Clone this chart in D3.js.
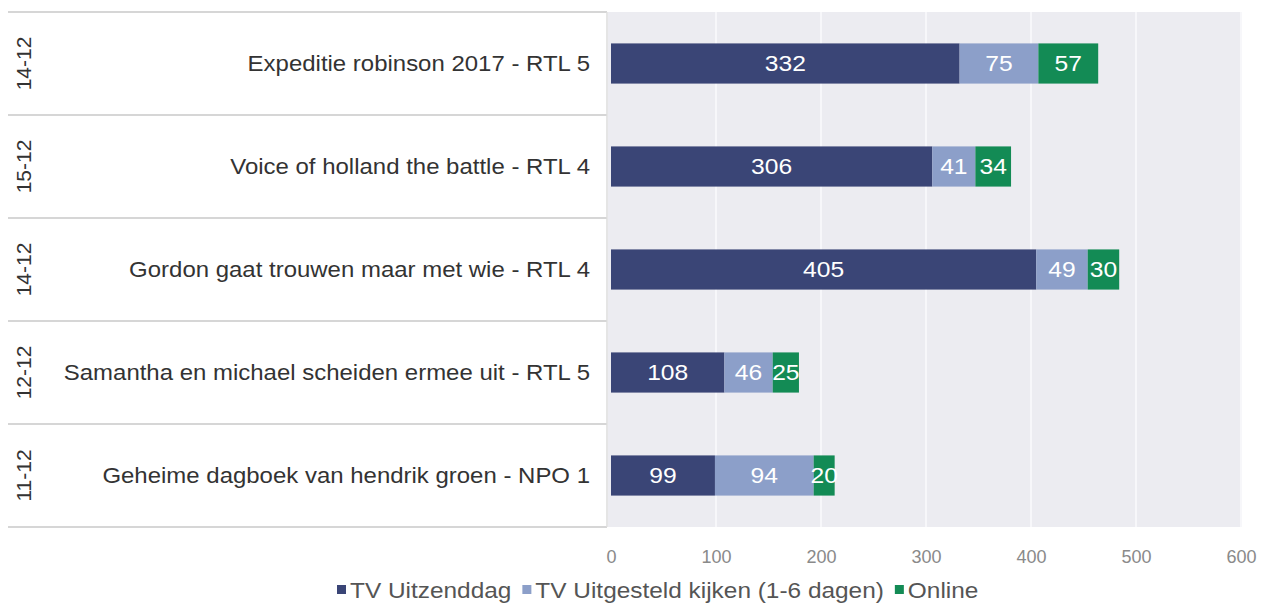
<!DOCTYPE html>
<html lang="nl">
<head>
<meta charset="UTF-8">
<title>Kijkcijfers</title>
<script src="https://d3js.org/d3.v7.min.js"></script>
<style>
  body { margin: 0; background: #fff; }
  svg text { font-family: "Liberation Sans", Arial, sans-serif; }
</style>
</head>
<body>
<svg width="1265" height="603"></svg>
<script>
// data
const dates = ["14-12", "15-12", "14-12", "12-12", "11-12"];
const programs = [
  "Expeditie robinson 2017 - RTL 5",
  "Voice of holland the battle - RTL 4",
  "Gordon gaat trouwen maar met wie - RTL 4",
  "Samantha en michael scheiden ermee uit - RTL 5",
  "Geheime dagboek van hendrik groen - NPO 1"
];
const seriesNames = ["TV Uitzenddag", "TV Uitgesteld kijken (1-6 dagen)", "Online"];
const uitzenddag = [332, 306, 405, 108, 99];
const uitgesteld = [75, 41, 49, 46, 94];
const online = [57, 34, 30, 25, 20];
const xTicks = [0, 100, 200, 300, 400, 500, 600];
const colors = ["#3a4576", "#8c9fc9", "#138b55"];

const svg = d3.select("svg");
const plotLeft = 611, plotRight = 1241, plotTop = 12, plotBottom = 527;
const stretch = 1.12; // text in the source image is slightly wide

const rows = programs.map((p, i) => ({
  program: p, date: dates[i],
  values: [uitzenddag[i], uitgesteld[i], online[i]]
}));

const x = d3.scaleLinear().domain([0, 600]).range([plotLeft, plotRight]);
const y = d3.scaleBand().domain(programs).range([plotTop, plotBottom]).paddingInner(0.61).paddingOuter(0.305);
const band = d3.scaleBand().domain(programs).range([plotTop, plotBottom]);

// plot background
svg.append("rect")
  .attr("x", 608).attr("y", plotTop)
  .attr("width", plotRight - 608).attr("height", plotBottom - plotTop)
  .attr("fill", "#ececf1");

// gridlines
svg.append("g").selectAll("line")
  .data(xTicks.slice(1))
  .join("line")
  .attr("x1", d => x(d)).attr("x2", d => x(d))
  .attr("y1", plotTop).attr("y2", plotBottom)
  .attr("stroke", "#f7f7fa").attr("stroke-width", 2);

// left table lines
const table = svg.append("g");
table.selectAll("line.h")
  .data(programs)
  .join("line")
  .attr("x1", 8).attr("x2", 607)
  .attr("y1", d => band(d)).attr("y2", d => band(d))
  .attr("stroke", "#d6d6d6").attr("stroke-width", 2);
table.append("line")
  .attr("x1", 8).attr("x2", 607)
  .attr("y1", plotBottom).attr("y2", plotBottom)
  .attr("stroke", "#d6d6d6").attr("stroke-width", 2);
table.append("line")
  .attr("x1", 607).attr("x2", 607)
  .attr("y1", plotTop).attr("y2", plotBottom)
  .attr("stroke", "#dcdcdc").attr("stroke-width", 1.5);

// date labels (rotated)
table.selectAll("text.date")
  .data(rows)
  .join("text")
  .attr("transform", d => `translate(31,${band(d.program) + band.bandwidth() / 2}) rotate(-90)`)
  .attr("text-anchor", "middle")
  .attr("font-size", 21)
  .attr("fill", "#333")
  .text(d => d.date);

// program labels
table.selectAll("text.prog")
  .data(rows)
  .join("text")
  .attr("transform", d => `translate(590,${band(d.program) + band.bandwidth() / 2}) scale(${stretch},1)`)
  .attr("dy", "0.35em")
  .attr("text-anchor", "end")
  .attr("font-size", 21.4)
  .attr("fill", "#333")
  .text(d => d.program);

// stacked bars
const stackData = rows.map(r => ({ program: r.program, s0: r.values[0], s1: r.values[1], s2: r.values[2] }));
const stacked = d3.stack().keys(["s0", "s1", "s2"])(stackData);

const layer = svg.append("g").selectAll("g")
  .data(stacked)
  .join("g")
  .attr("fill", (d, i) => colors[i]);

layer.selectAll("rect")
  .data(d => d)
  .join("rect")
  .attr("x", d => x(d[0]))
  .attr("width", d => x(d[1]) - x(d[0]))
  .attr("y", d => y(d.data.program))
  .attr("height", y.bandwidth());

layer.selectAll("text")
  .data(d => d)
  .join("text")
  .attr("transform", d => `translate(${(x(d[0]) + x(d[1])) / 2},${y(d.data.program) + y.bandwidth() / 2}) scale(${stretch},1)`)
  .attr("dy", "0.36em")
  .attr("text-anchor", "middle")
  .attr("font-size", 22)
  .attr("fill", "#fff")
  .text(d => d[1] - d[0]);

// x axis
const xAxis = svg.append("g")
  .attr("transform", `translate(0,${plotBottom})`)
  .call(d3.axisBottom(x).tickValues(xTicks).tickSize(0).tickPadding(23));
xAxis.select(".domain").remove();
xAxis.selectAll("text")
  .attr("font-size", 18)
  .attr("fill", "#8a8a8a")
  .style("font-family", "Liberation Sans, Arial, sans-serif");

// legend
const legend = svg.append("g").attr("transform", "translate(337,591)");
let lx = 0;
seriesNames.forEach((name, i) => {
  const g = legend.append("g").attr("transform", `translate(${lx},0)`);
  g.append("rect").attr("x", 0).attr("y", -6).attr("width", 9).attr("height", 9).attr("fill", colors[i]);
  const t = g.append("text").attr("transform", `translate(13,7) scale(${stretch},1)`)
    .attr("font-size", 21.8).attr("fill", "#555").text(name);
  lx += 13 + t.node().getComputedTextLength() * stretch + 11;
});
</script>
</body>
</html>
